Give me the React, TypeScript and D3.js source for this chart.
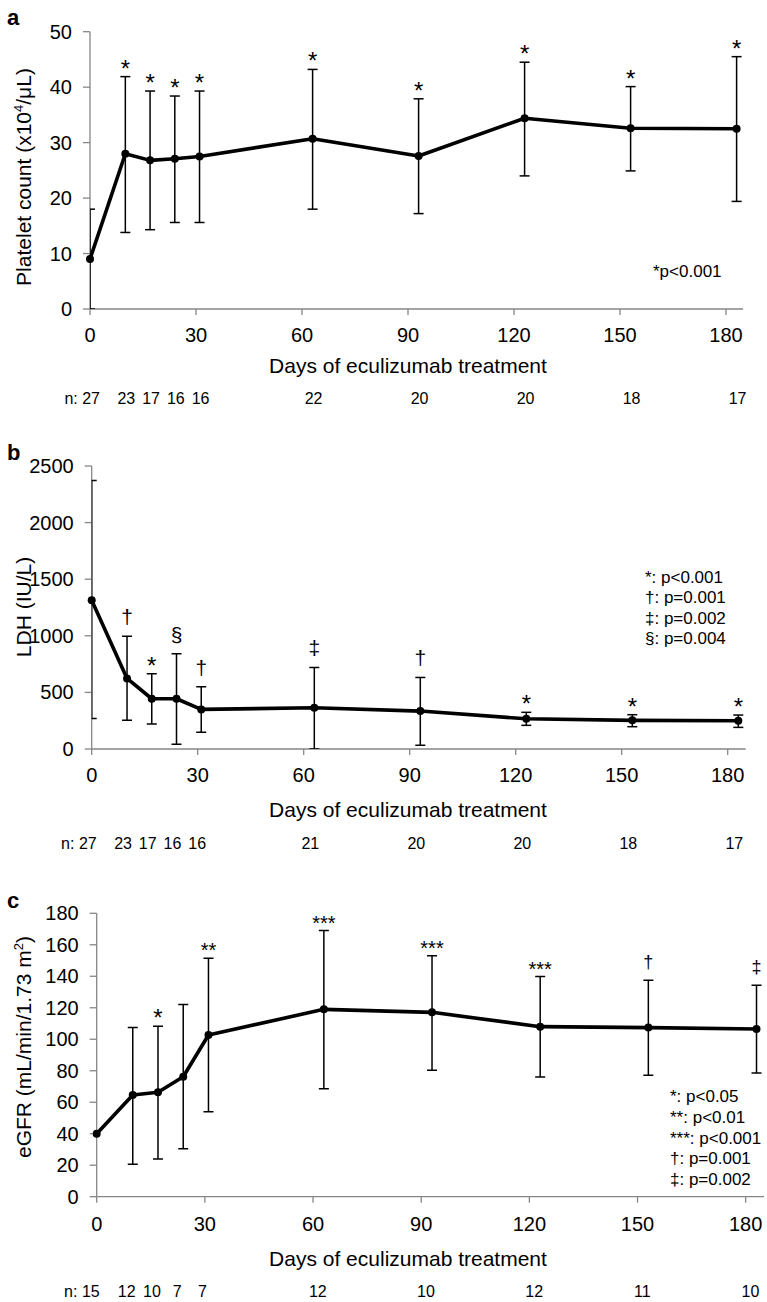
import React from 'react';
import * as d3 from 'd3';

// ---------- data ----------
const days = [0, 10, 17, 24, 31, 63, 93, 123, 153, 183];
const xTickValues = [0, 30, 60, 90, 120, 150, 180];

const plateletMean = [9.0, 28.0, 26.8, 27.1, 27.5, 30.7, 27.6, 34.4, 32.6, 32.5];
const plateletUpper = [18.0, 41.9, 39.3, 38.4, 39.3, 43.2, 37.9, 44.5, 40.1, 45.5];
const plateletLower = [0, 13.8, 14.3, 15.6, 15.6, 18.0, 17.2, 24.0, 24.9, 19.4];
const plateletSig = ['', '*', '*', '*', '*', '*', '*', '*', '*', '*'];
const plateletN = [27, 23, 17, 16, 16, 22, 20, 20, 18, 17];
const plateletYTicks = [0, 10, 20, 30, 40, 50];
const plateletLegend = ['*p<0.001'];

const ldhMean = [1315, 623, 444, 444, 350, 364, 335, 267, 253, 250];
const ldhUpper = [2372, 995, 664, 841, 549, 720, 632, 324, 303, 300];
const ldhLower = [270, 253, 220, 41, 147, 0, 33, 209, 197, 191];
const ldhSig = ['', '†', '*', '§', '†', '‡', '†', '*', '*', '*'];
const ldhN = [27, 23, 17, 16, 16, 21, 20, 20, 18, 17];
const ldhYTicks = [0, 500, 1000, 1500, 2000, 2500];
const ldhLegend = ['*: p<0.001', '†: p=0.001', '‡: p=0.002', '§: p=0.004'];

const egfrMean = [40.0, 64.6, 66.3, 76.2, 102.7, 119.0, 117.1, 108.0, 107.4, 106.5];
const egfrUpper: (number | null)[] = [null, 107.4, 108.3, 122.0, 151.5, 169.0, 153.1, 139.8, 137.5, 134.3];
const egfrLower: (number | null)[] = [null, 20.6, 24.0, 30.5, 54.0, 68.6, 80.3, 76.0, 77.1, 78.6];
const egfrSig = ['', '', '*', '', '**', '***', '***', '***', '†', '‡'];
const egfrN = [15, 12, 10, 7, 7, 12, 10, 12, 11, 10];
const egfrYTicks = [0, 20, 40, 60, 80, 100, 120, 140, 160, 180];
const egfrLegend = ['*: p<0.05', '**: p<0.01', '***: p<0.001', '†: p=0.001', '‡: p=0.002'];

const FONT = '"Liberation Sans", Arial, Helvetica, sans-serif';
const AXIS = '#868686';

type Cfg = {
  id: string;
  letter: string;
  letterY: number;
  x0: number; x180: number; xEnd: number;
  yTop: number; yBottom: number;
  yTicks: number[];
  mean: number[]; upper: (number | null)[]; lower: (number | null)[];
  sig: string[]; n: number[];
  nOffset: number;
  tickOff: number; titleOff: number; nOff: number;
  yLabel: React.ReactNode; yLabelY: number;
  legend: string[]; legendX: number; legendY: number; legendStep: number;
  daggerSize: number;
};

function Panel({ c }: { c: Cfg }) {
  const yMax = c.yTicks[c.yTicks.length - 1];
  const x = d3.scaleLinear().domain([0, 180]).range([c.x0, c.x180]);
  const y = d3.scaleLinear().domain([0, yMax]).range([c.yBottom, c.yTop]);
  const pts = days.map((d, i) => [x(d), y(c.mean[i])] as [number, number]);
  const line = d3.line().curve(d3.curveLinear)(pts) || '';
  const clipId = 'clip-' + c.id;
  return (
    <g>
      <defs>
        <clipPath id={clipId}>
          <rect x={c.x0} y={c.yTop - 40} width={c.xEnd - c.x0 + 20} height={c.yBottom - c.yTop + 40} />
        </clipPath>
      </defs>
      <text x={7} y={c.letterY} fontFamily={FONT} fontWeight="bold" fontSize={22}>{c.letter}</text>
      {/* axes */}
      <line x1={c.x0} x2={c.x0} y1={y(yMax)} y2={c.yBottom} stroke={AXIS} strokeWidth={1.3} />
      <line x1={c.x0} x2={c.xEnd} y1={c.yBottom} y2={c.yBottom} stroke={AXIS} strokeWidth={1.3} />
      {c.yTicks.map((t) => (
        <g key={'yt' + t}>
          <line x1={c.x0 - 7} x2={c.x0} y1={y(t)} y2={y(t)} stroke={AXIS} strokeWidth={1.3} />
          <text x={c.x0 - 18} y={y(t) + 7} textAnchor="end" fontFamily={FONT} fontSize={20}>{t}</text>
        </g>
      ))}
      {xTickValues.map((t) => (
        <g key={'xt' + t}>
          <line x1={x(t)} x2={x(t)} y1={c.yBottom} y2={c.yBottom + 6} stroke={AXIS} strokeWidth={1.3} />
          <text x={x(t)} y={c.yBottom + c.tickOff} textAnchor="middle" fontFamily={FONT} fontSize={20}>{t}</text>
        </g>
      ))}
      <text x={408} y={c.yBottom + c.titleOff} textAnchor="middle" fontFamily={FONT} fontSize={21}>Days of eculizumab treatment</text>
      <text transform={`translate(31,${c.yLabelY}) rotate(-90)`} textAnchor="middle" fontFamily={FONT} fontSize={21}>{c.yLabel}</text>
      {/* error bars */}
      <g clipPath={`url(#${clipId})`} stroke="#000" strokeWidth={1.5}>
        {days.map((d, i) => {
          const u = c.upper[i];
          const l = c.lower[i];
          if (u == null || l == null) return null;
          const xi = x(d);
          return (
            <g key={'eb' + i}>
              <line x1={xi} x2={xi} y1={y(u)} y2={y(l)} />
              <line x1={xi - 5} x2={xi + 5} y1={y(u)} y2={y(u)} />
              <line x1={xi - 5} x2={xi + 5} y1={y(l)} y2={y(l)} />
            </g>
          );
        })}
      </g>
      <path d={line} fill="none" stroke="#000" strokeWidth={3.6} strokeLinejoin="round" />
      {pts.map((p, i) => <circle key={'pt' + i} cx={p[0]} cy={p[1]} r={4} fill="#000" />)}
      {/* significance marks */}
      {days.map((d, i) => {
        const s = c.sig[i];
        const u = c.upper[i];
        if (!s || u == null) return null;
        const isStar = s.startsWith('*');
        const multi = isStar && s.length > 1;
        const base = y(u) - (isStar ? (multi ? 1 : 0) : 12);
        return (
          <text key={'sg' + i} x={x(d)} y={base} textAnchor="middle" fontFamily={FONT} fontSize={isStar ? (multi ? 20 : 24) : c.daggerSize}>{s}</text>
        );
      })}
      {/* legend */}
      {c.legend.map((s, i) => (
        <text key={'lg' + i} x={c.legendX} y={c.legendY + i * c.legendStep} fontFamily={FONT} fontSize={17}>{s}</text>
      ))}
      {/* n row */}
      {days.map((d, i) => (
        i === 0 ? (
          <text key={'n' + i} x={x(d) + c.nOffset + 9} y={c.yBottom + c.nOff} textAnchor="end" fontFamily={FONT} fontSize={16}>{'n: ' + c.n[i]}</text>
        ) : (
          <text key={'n' + i} x={x(d) + c.nOffset} y={c.yBottom + c.nOff} textAnchor="middle" fontFamily={FONT} fontSize={16}>{c.n[i]}</text>
        )
      ))}
    </g>
  );
}

export default function App() {
  const panels: Cfg[] = [
    {
      id: 'a', letter: 'a', letterY: 25,
      x0: 90, x180: 726, xEnd: 743, yTop: 31.7, yBottom: 309,
      yTicks: plateletYTicks, mean: plateletMean, upper: plateletUpper, lower: plateletLower,
      sig: plateletSig, n: plateletN, nOffset: 1,
      tickOff: 33, titleOff: 64, nOff: 95,
      yLabel: (<>Platelet count (x10<tspan fontSize={13} dy={-8}>4</tspan><tspan dy={8}>/μL)</tspan></>),
      yLabelY: 177,
      legend: plateletLegend, legendX: 653, legendY: 277, legendStep: 20.5, daggerSize: 21,
    },
    {
      id: 'b', letter: 'b', letterY: 460,
      x0: 91.7, x180: 727.7, xEnd: 745.7, yTop: 466, yBottom: 749,
      yTicks: ldhYTicks, mean: ldhMean, upper: ldhUpper, lower: ldhLower,
      sig: ldhSig, n: ldhN, nOffset: -4,
      tickOff: 33, titleOff: 68, nOff: 100,
      yLabel: 'LDH (IU/L)', yLabelY: 607,
      legend: ldhLegend, legendX: 645, legendY: 582.7, legendStep: 20.4, daggerSize: 21,
    },
    {
      id: 'c', letter: 'c', letterY: 908,
      x0: 96.7, x180: 745.7, xEnd: 764, yTop: 913.3, yBottom: 1196.7,
      yTicks: egfrYTicks, mean: egfrMean, upper: egfrUpper, lower: egfrLower,
      sig: egfrSig, n: egfrN, nOffset: -6,
      tickOff: 34, titleOff: 69, nOff: 100,
      yLabel: (<>eGFR (mL/min/1.73 m<tspan fontSize={13} dy={-8}>2</tspan><tspan dy={8}>)</tspan></>),
      yLabelY: 1047,
      legend: egfrLegend, legendX: 670, legendY: 1102, legendStep: 20.8, daggerSize: 18,
    },
  ];
  return (
    <svg width={767} height={1302} style={{ position: 'absolute', left: 0, top: 0, background: '#fff' }}>
      <rect width={767} height={1302} fill="#fff" />
      {panels.map((p) => <Panel key={p.id} c={p} />)}
    </svg>
  );
}
